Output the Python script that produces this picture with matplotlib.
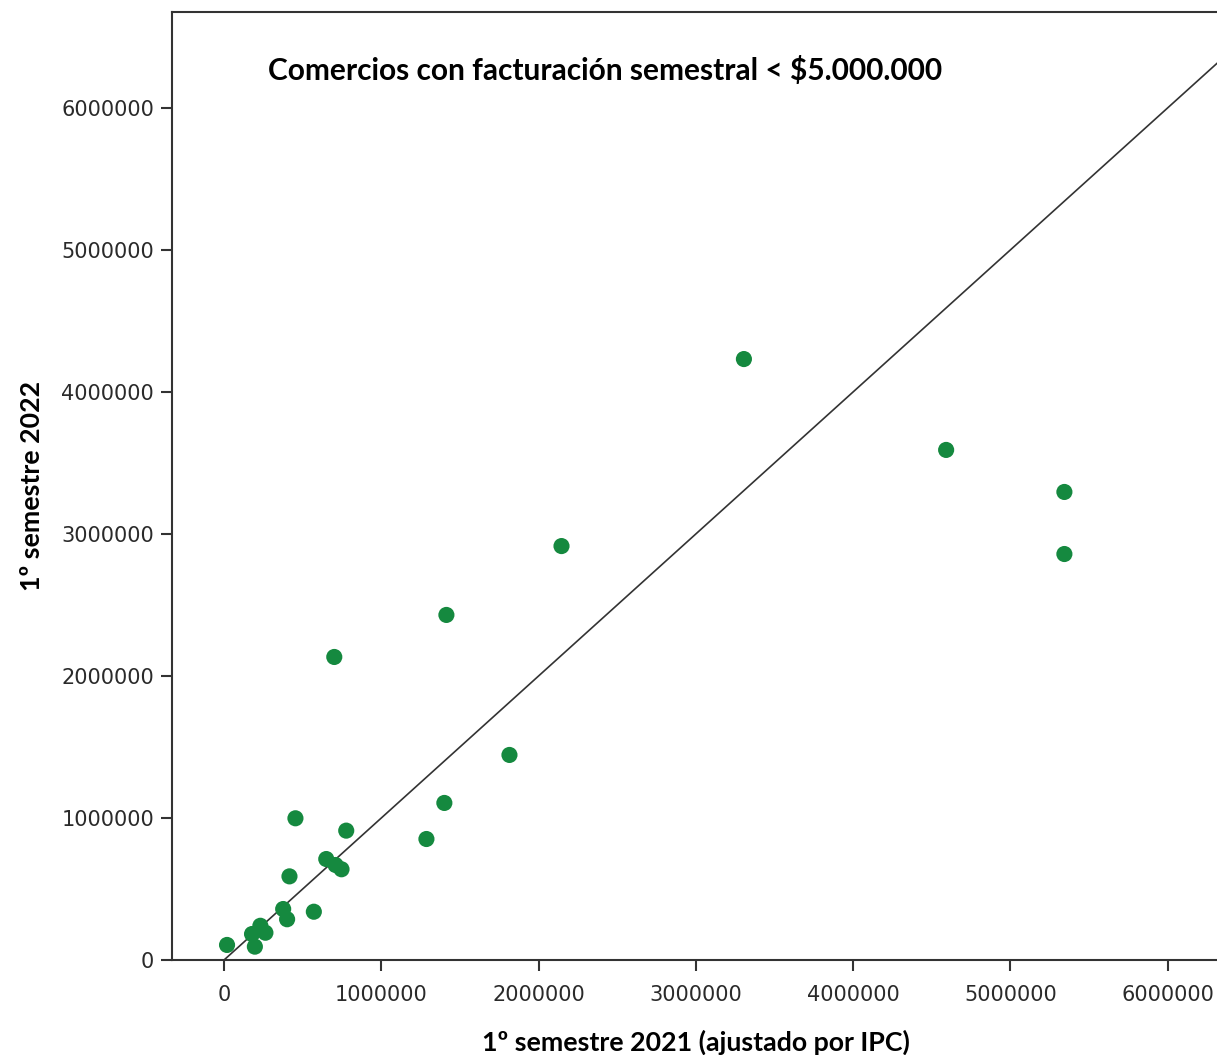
import matplotlib
matplotlib.use("Agg")
import numpy as np
import matplotlib.pyplot as plt

# 1º semestre 2021 (ajustado por IPC) vs 1º semestre 2022
x_2021 = [3306000, 4592000, 5344000, 5344000, 2146000, 1414000, 701000, 1815000,
          1401000, 1287000, 454000, 777000, 650000, 709000, 747000, 416000,
          376000, 571000, 401000, 231000, 178000, 263000, 19000, 196000]
y_2022 = [4232000, 3592000, 3296000, 2859000, 2915000, 2430000, 2134000, 1444000,
          1106000, 852000, 998000, 911000, 711000, 669000, 639000, 589000,
          359000, 340000, 287000, 241000, 183000, 192000, 106000, 94000]

x_ticks = [0, 1000000, 2000000, 3000000, 4000000, 5000000, 6000000]
y_ticks = [0, 1000000, 2000000, 3000000, 4000000, 5000000, 6000000]

TITLE = "Comercios con facturación semestral < $5.000.000"
XLABEL = "1º semestre 2021 (ajustado por IPC)"
YLABEL = "1º semestre 2022"

GREEN = "#15893f"
TEXT_FONT = ["Lato", "DejaVu Sans"]

fig = plt.figure(figsize=(12.17, 10.55), dpi=100)
ax = fig.add_axes([172 / 1217, 1 - 960 / 1055, 1 - 172 / 1217 + 0.002, (960 - 12) / 1055])

xmin, xmax = -331000, 6330000
ymin, ymax = 0, 6676000

# reference line y = x from origin
ax.plot([0, xmax], [0, xmax], color="#333333", lw=1.2, zorder=2)
ax.scatter(x_2021, y_2022, s=135, color=GREEN, edgecolors="none", zorder=3)

ax.set_xlim(xmin, xmax)
ax.set_ylim(ymin, ymax)
ax.set_xticks(x_ticks)
ax.set_yticks(y_ticks)
ax.set_xticklabels([str(v) for v in x_ticks])
ax.set_yticklabels([str(v) for v in y_ticks])

for side in ["left", "bottom", "top"]:
    ax.spines[side].set_color("#333333")
    ax.spines[side].set_linewidth(1.5)
ax.spines["right"].set_visible(False)

ax.tick_params(axis="both", direction="out", length=8, width=1.5, color="#333333",
               labelsize=15, labelcolor="#2a2a2a")
ax.tick_params(axis="x", pad=10)
ax.tick_params(axis="y", pad=5)

ax.set_xlabel(XLABEL, fontsize=19.3, fontweight="bold", family=TEXT_FONT, labelpad=18)
ax.set_ylabel(YLABEL, fontsize=19.3, fontweight="bold", family=TEXT_FONT, labelpad=12)

ax.text(0.092, 0.938, TITLE, transform=ax.transAxes, fontsize=21.5, fontweight="bold",
        family=TEXT_FONT, ha="left", va="center", color="#000000")

fig.savefig("out.png", dpi=100)
